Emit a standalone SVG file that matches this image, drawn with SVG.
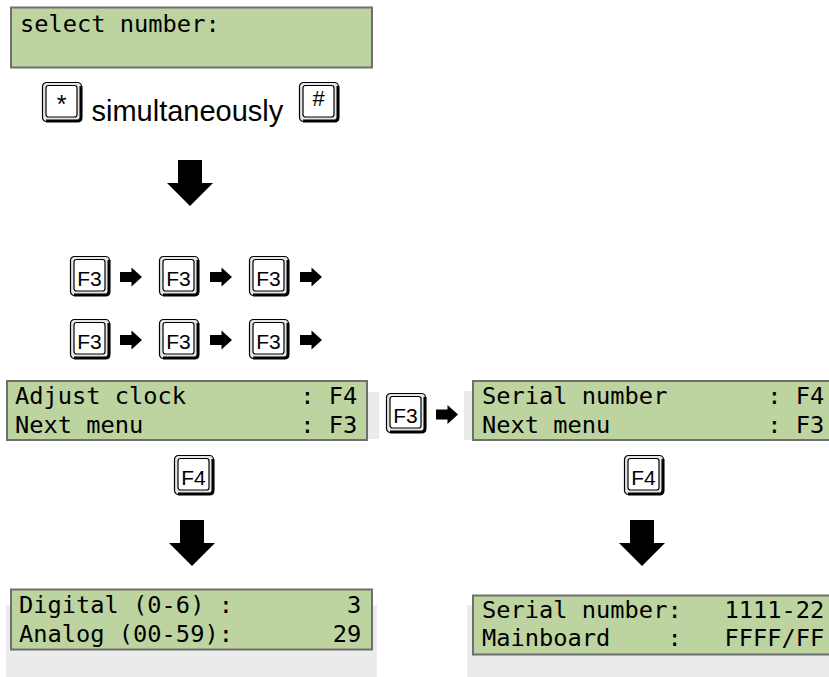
<svg xmlns="http://www.w3.org/2000/svg" width="829" height="677" viewBox="0 0 829 677">
  <style>
    .lcd { fill: #bdd4a1; stroke: #6f6f6f; stroke-width: 2; }
    .pad { fill: #ebebeb; }
    .mono { font-family: "DejaVu Sans Mono", "Liberation Mono", monospace; font-size: 23.7px; fill: #000; white-space: pre; }
    .sans { font-family: "Liberation Sans", Arial, Helvetica, sans-serif; fill: #000; }
    .keylbl { font-family: "Liberation Sans", Arial, Helvetica, sans-serif; font-size: 21px; fill: #000; text-anchor: middle; }
    .arrow { fill: #000; }
  </style>
  <defs>
    <!-- keycap: bevelled frame, heavy bottom-right shadow, white face -->
    <g id="key">
      <rect x="0.5" y="0.5" width="39" height="39" rx="4" fill="#e6e6e6" stroke="#000" stroke-width="1.2"/>
      <path d="M39 4 V35.5 Q39 39 35.5 39 H4" fill="none" stroke="#000" stroke-width="3"/>
      <rect x="4" y="3.5" width="31" height="31.5" rx="2.5" fill="#fff" stroke="#000" stroke-width="1.2"/>
    </g>
    <!-- small right-pointing arrow between key presses -->
    <path id="rarrow" d="M0 4.5 H11.5 V0 L22 9.5 L11.5 19 V14.5 H0 Z"/>
    <!-- large downward arrow -->
    <path id="darrow" d="M11 0 H35 V23 H46 L23 46 L0 23 H11 Z"/>
  </defs>

  <!-- backing panels behind the displays -->
  <rect class="pad" x="14" y="392" width="365" height="47"/>
  <rect class="pad" x="464" y="391" width="370" height="49"/>
  <rect class="pad" x="6" y="605" width="371" height="72"/>
  <rect class="pad" x="467" y="605" width="367" height="72"/>

  <!-- display: select number -->
  <g id="lcd-select">
    <rect class="lcd" x="11" y="7.5" width="361" height="60"/>
    <text class="mono" x="20" y="32">select number:</text>
  </g>

  <!-- key combination -->
  <g id="keys-star-hash">
    <use href="#key" x="42" y="82"/>
    <text class="keylbl" x="61.5" y="113" style="font-size:25px">*</text>
    <text class="sans" x="91.5" y="120.5" style="font-size:29px">simultaneously</text>
    <use href="#key" x="299" y="82"/>
    <text class="keylbl" x="318.5" y="106" style="font-size:22px">#</text>
  </g>

  <!-- F3 sequence, two rows -->
  <g id="f3-row-1">
    <use href="#key" x="70" y="256"/><text class="keylbl" x="89.5" y="286">F3</text>
    <use href="#key" x="159" y="256"/><text class="keylbl" x="178.5" y="286">F3</text>
    <use href="#key" x="249" y="256"/><text class="keylbl" x="268.5" y="286">F3</text>
  </g>
  <g id="f3-row-2">
    <use href="#key" x="70" y="319"/><text class="keylbl" x="89.5" y="349">F3</text>
    <use href="#key" x="159" y="319"/><text class="keylbl" x="178.5" y="349">F3</text>
    <use href="#key" x="249" y="319"/><text class="keylbl" x="268.5" y="349">F3</text>
  </g>

  <!-- display: adjust clock menu -->
  <g id="lcd-adjust-clock">
    <rect class="lcd" x="7" y="381" width="360" height="59"/>
    <text class="mono" x="15" y="404">Adjust clock        : F4</text>
    <text class="mono" x="15" y="432.5">Next menu           : F3</text>
  </g>

  <!-- F3 between menus -->
  <g id="key-f3-next">
    <use href="#key" x="386" y="393"/><text class="keylbl" x="405.5" y="423">F3</text>
  </g>

  <!-- display: serial number menu -->
  <g id="lcd-serial-menu">
    <rect class="lcd" x="473" y="381" width="370" height="59"/>
    <text class="mono" x="482" y="404">Serial number       : F4</text>
    <text class="mono" x="482" y="432.5">Next menu           : F3</text>
  </g>

  <!-- F4 keys -->
  <g id="key-f4-left">
    <use href="#key" x="174" y="455"/><text class="keylbl" x="193.5" y="485">F4</text>
  </g>
  <g id="key-f4-right">
    <use href="#key" x="624" y="455"/><text class="keylbl" x="643.5" y="485">F4</text>
  </g>

  <!-- display: clock values -->
  <g id="lcd-clock-values">
    <rect class="lcd" x="11" y="589.5" width="361" height="60"/>
    <text class="mono" x="19" y="612.5">Digital (0-6) :        3</text>
    <text class="mono" x="19" y="641.5">Analog (00-59):       29</text>
  </g>

  <!-- display: serial number values -->
  <g id="lcd-serial-values">
    <rect class="lcd" x="473" y="595.5" width="370" height="59"/>
    <text class="mono" x="482" y="617.5">Serial number:   1111-22</text>
    <text class="mono" x="482" y="646">Mainboard    :   FFFF/FF</text>
  </g>

  <!-- connectors -->
  <g id="connectors" class="arrow">
    <use href="#darrow" x="167" y="160"/>
    <use href="#rarrow" x="120" y="267.5"/>
    <use href="#rarrow" x="210" y="267.5"/>
    <use href="#rarrow" x="300" y="267.5"/>
    <use href="#rarrow" x="120" y="330.5"/>
    <use href="#rarrow" x="210" y="330.5"/>
    <use href="#rarrow" x="300" y="330.5"/>
    <use href="#rarrow" x="436" y="405"/>
    <use href="#darrow" x="169" y="520"/>
    <use href="#darrow" x="619" y="520"/>
  </g>
</svg>
